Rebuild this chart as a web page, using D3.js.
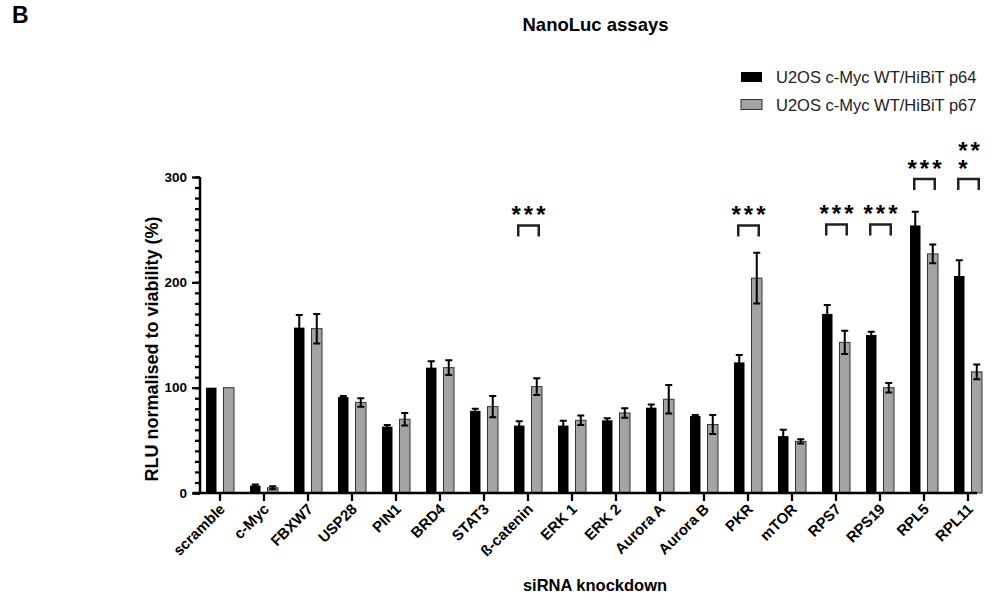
<!DOCTYPE html>
<html>
<head>
<meta charset="utf-8">
<script src="https://cdn.jsdelivr.net/npm/d3@7"></script>
<style>
  body { margin: 0; background: #fff; }
  text { font-family: "Liberation Sans", Arial, sans-serif; }
</style>
</head>
<body>
<svg width="997" height="604"></svg>
<script>
let categories = ["scramble", "c-Myc", "FBXW7", "USP28", "PIN1", "BRD4", "STAT3", "ß-catenin", "ERK 1",
    "ERK 2", "Aurora A", "Aurora B", "PKR", "mTOR", "RPS7", "RPS19", "RPL5", "RPL11"];
let seriesNames = ["U2OS c-Myc WT/HiBiT p64", "U2OS c-Myc WT/HiBiT p67"];
let p64 = [100, 7, 157, 91, 63, 119, 78, 64, 64, 69, 81, 73, 124, 54, 170, 150, 254, 206];
let p64err = [0, 1, 12, 1, 1.5, 6, 2, 4, 4.5, 2, 3, 1, 7, 6, 8.5, 3, 13, 15];
let p67 = [100, 5, 156, 86, 70, 119, 82, 101, 69, 76, 89, 65, 204, 49, 143, 100, 227, 115];
let p67err = [0, 1.5, 14, 4, 6, 7, 10, 8, 4.5, 4.5, 13.5, 9, 24, 2, 11, 4.5, 9, 7];
let yMajor = [0, 100, 200, 300];
let yMinor = d3.range(0, 301, 10);
let sigCats = ["ß-catenin", "PKR", "RPS7", "RPS19", "RPL5", "RPL11"];
let sigLevel = [254, 254, 255, 255, 298, 298];
let sigText = [["***"], ["***"], ["***"], ["***"], ["***"], ["**", "*"]];

let svg = d3.select("svg");
let colors = ["#000000", "#a3a3a3"];

let x = d3.scaleBand().domain(categories).range([198, 990]);
let xs = d3.scaleBand().domain([0, 1]).range([8, 36]).paddingInner(0.4);
let y = d3.scaleLinear().domain([0, 300]).range([493, 177]);

// titles
svg.append("text").attr("x", 12).attr("y", 23).attr("font-size", 23).attr("font-weight", "bold").text("B");
svg.append("text").attr("x", 595.5).attr("y", 31).attr("text-anchor", "middle")
    .attr("font-size", 18.5).attr("font-weight", "bold").text("NanoLuc assays");

// bars
let data = [];
for (let i = 0; i < categories.length; i++) {
    data.push({cat: categories[i], s: 0, v: p64[i], e: p64err[i]});
    data.push({cat: categories[i], s: 1, v: p67[i], e: p67err[i]});
}
let bars = svg.append("g");
bars.selectAll("rect").data(data).enter().append("rect")
    .attr("x", d => x(d.cat) + xs(d.s))
    .attr("y", d => y(d.v))
    .attr("width", xs.bandwidth())
    .attr("height", d => y(0) - y(d.v))
    .attr("fill", d => colors[d.s])
    .attr("stroke", d => d.s ? "#333" : "none")
    .attr("stroke-width", 1);

// error bars
let eb = svg.append("g").attr("stroke", "#000").attr("stroke-width", 2).attr("fill", "none");
data.filter(d => d.e > 0).forEach(d => {
    let cx = x(d.cat) + xs(d.s) + xs.bandwidth() / 2;
    eb.append("path").attr("d",
        "M" + cx + "," + y(d.v + d.e) + "V" + y(d.v - d.e) +
        "M" + (cx - 3.5) + "," + y(d.v + d.e) + "H" + (cx + 3.5) +
        "M" + (cx - 3.5) + "," + y(d.v - d.e) + "H" + (cx + 3.5));
});

// y axis
let yAxisMinor = d3.axisLeft(y).tickValues(yMinor).tickSize(5).tickFormat("");
let yAxis = d3.axisLeft(y).tickValues(yMajor).tickSize(8).tickPadding(5);
let gy1 = svg.append("g").attr("transform", "translate(200,0)").call(yAxisMinor);
let gy = svg.append("g").attr("transform", "translate(200,0)").call(yAxis);
gy1.select(".domain").remove();
[gy, gy1].forEach(g => {
    g.selectAll("line").attr("stroke-width", 2.3);
    g.selectAll("path").attr("stroke-width", 2.5);
});
gy.select(".domain").attr("d", "M0," + y(300) + "V" + y(0));
gy.selectAll("text").attr("font-size", 13.5).attr("font-weight", "bold").attr("fill", "#000")
    .attr("font-family", "Liberation Sans, Arial, sans-serif");

// x axis
let xAxis = d3.axisBottom(x).tickSize(8).tickSizeOuter(0);
let gx = svg.append("g").attr("transform", "translate(0," + y(0) + ")").call(xAxis);
gx.select(".domain").attr("d", "M193,0H977").attr("stroke-width", 2.5);
gx.selectAll("line").attr("stroke-width", 2.3);
gx.selectAll("text")
    .attr("font-size", 15).attr("font-weight", "bold").attr("fill", "#000")
    .attr("font-family", "Liberation Sans, Arial, sans-serif")
    .attr("text-anchor", "end")
    .attr("dy", null)
    .attr("transform", "translate(6,17) rotate(-45)")
    .attr("y", 0).attr("x", 0);

// axis labels
svg.append("text").attr("transform", "translate(158,349) rotate(-90)").attr("text-anchor", "middle")
    .attr("font-size", 18).attr("font-weight", "bold").text("RLU normalised to viability (%)");
svg.append("text").attr("x", 595).attr("y", 591).attr("text-anchor", "middle")
    .attr("font-size", 16.5).attr("font-weight", "bold").text("siRNA knockdown");

// significance brackets
let sg = svg.append("g");
sigCats.forEach((c, i) => {
    let x0 = x(c) + xs(0) + xs.bandwidth() / 2 - 1;
    let x1 = x(c) + xs(1) + xs.bandwidth() / 2 + 2;
    let yt = y(sigLevel[i]);
    sg.append("path").attr("d", "M" + x0 + "," + (yt + 11) + "V" + yt + "H" + x1 + "V" + (yt + 11))
        .attr("fill", "none").attr("stroke", "#222").attr("stroke-width", 2.5);
    let lines = sigText[i];
    lines.forEach((t, j) => {
        let tx = sg.append("text")
            .attr("y", yt - 2 - (lines.length - 1 - j) * 18.5)
            .attr("font-size", 24).attr("font-weight", "bold")
            .attr("letter-spacing", 3).text(t);
        if (lines.length > 1) tx.attr("x", x0);
        else tx.attr("x", (x0 + x1) / 2 + 1.5).attr("text-anchor", "middle");
    });
});

// legend
let lg = svg.append("g");
seriesNames.forEach((s, i) => {
    lg.append("rect").attr("x", 741).attr("y", 72 + i * 27.5).attr("width", 21).attr("height", 10)
        .attr("fill", colors[i]).attr("stroke", i ? "#333" : "none");
    lg.append("text").attr("x", 776).attr("y", 83 + i * 27.5).attr("font-size", 16.5).attr("fill", "#222").text(s);
});
</script>
</body>
</html>
